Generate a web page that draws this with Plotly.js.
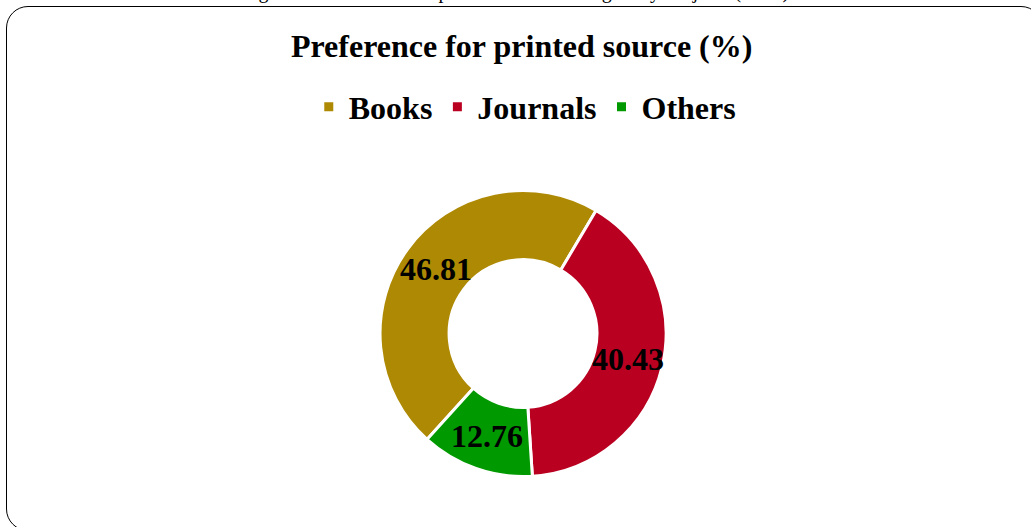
<!DOCTYPE html>
<html><head><meta charset="utf-8">
<script src="https://cdn.plot.ly/plotly-3.0.1.min.js"></script>
<style>
html,body{margin:0;padding:0;background:#fff;overflow:hidden;}
#frame{position:absolute;left:6px;top:6px;width:1037px;height:525px;border:1.6px solid #000;border-radius:22px;box-sizing:border-box;}
#cap{position:absolute;left:0;top:-20px;width:1031px;text-align:center;font-family:"Liberation Serif","Times New Roman",serif;font-size:20px;color:#000;white-space:nowrap;}
#chart{position:absolute;left:0;top:0;width:1031px;height:527px;}
</style></head>
<body>
<div id="cap">Figure 3: Preference for printed source among study subjects (n=94)</div>
<div id="frame"></div>
<div id="chart"></div>
<script>
const categories = ["Books", "Journals", "Others"];
const values = [46.81, 40.43, 12.76];
const colors = ["#AE8903", "#BA0020", "#009900"];
const chartTitle = "Preference for printed source (%)";

const serif = '"Liberation Serif","Times New Roman",serif';
const W = 1031, H = 527;
const hole = 0.517, rotation = 222.2;
const dom = {x: [0.3686, 0.646], y: [0.0949, 0.6395]};

// value labels placed at each slice's mid-angle, mid-ring radius (derived from the values)
const total = values.reduce((a, b) => a + b, 0);
const Rpx = Math.min((dom.x[1] - dom.x[0]) * W, (dom.y[1] - dom.y[0]) * H) / 2;
const rMid = Rpx * (1 + hole) / 2;
const cxP = (dom.x[0] + dom.x[1]) / 2, cyP = (dom.y[0] + dom.y[1]) / 2;
let cum = 0;
const annotations = values.map((v) => {
  const mid = (rotation + (cum + v / 2) / total * 360) * Math.PI / 180;
  cum += v;
  return {
    x: cxP + rMid * Math.sin(mid) / W, y: cyP + rMid * Math.cos(mid) / H,
    xref: "paper", yref: "paper", showarrow: false,
    text: v.toFixed(2), xanchor: "center", yanchor: "middle",
    font: {family: serif, size: 32, color: "#000", weight: "bold"}
  };
});

const data = [{
  type: "pie",
  labels: categories,
  values: values,
  hole: hole,
  sort: false,
  direction: "clockwise",
  rotation: rotation,
  marker: {colors: colors, line: {color: "#ffffff", width: 3}},
  textinfo: "none",
  hoverinfo: "label+value",
  domain: dom
}];
const layout = {
  width: W, height: H,
  margin: {l: 0, r: 0, t: 0, b: 0},
  paper_bgcolor: "rgba(0,0,0,0)",
  plot_bgcolor: "rgba(0,0,0,0)",
  title: {text: chartTitle, font: {family: serif, size: 32, color: "#000", weight: "bold"},
          x: 0.506, xanchor: "center", y: 0.913, yanchor: "middle"},
  showlegend: true,
  legend: {orientation: "h", x: 0.509, xanchor: "center", y: 0.797, yanchor: "middle",
           font: {family: serif, size: 32, color: "#000", weight: "bold"},
           itemwidth: 30, bgcolor: "rgba(0,0,0,0)"},
  annotations: annotations
};
Plotly.newPlot("chart", data, layout, {displayModeBar: false, staticPlot: true});
</script>
</body></html>
